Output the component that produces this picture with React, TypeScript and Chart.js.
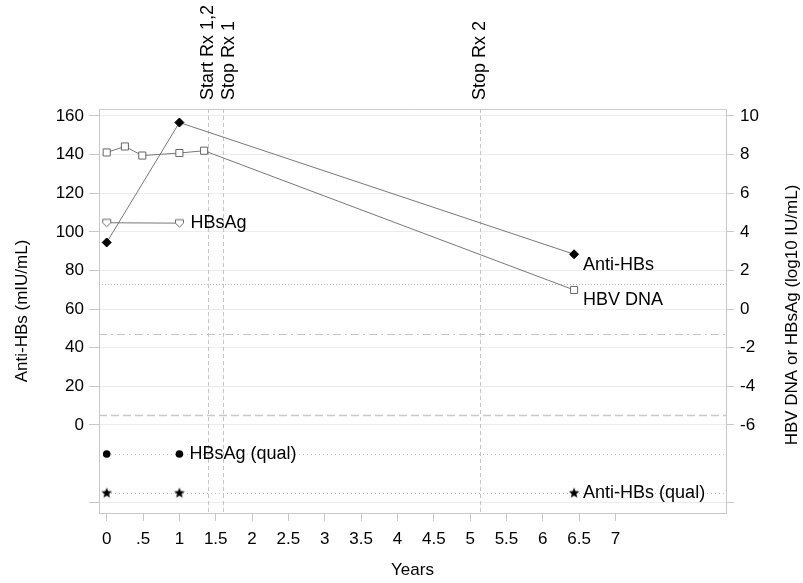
import { useEffect, useRef } from 'react';
import { Chart, registerables } from 'chart.js';

Chart.register(...registerables);

// ---- data ----
const antiHbsYears = [0, 1, 6.43];
const antiHbsValues = [94.5, 156.6, 88.4]; // mIU/mL, left axis

const hbvDnaYears = [0, 0.25, 0.49, 1, 1.34, 6.43];
const hbvDnaValues = [8.11, 8.42, 7.95, 8.08, 8.2, 0.99]; // log10 IU/mL, right axis

const hbsAgYears = [0, 1];
const hbsAgValues = [4.47, 4.45]; // log10 IU/mL, right axis

const hbsAgQualYears = [0, 1];
const antiHbsQualYears = [0, 1, 6.43];
const hbsAgQualRow = -15; // left-axis row for qualitative HBsAg
const antiHbsQualRow = -35; // left-axis row for qualitative anti-HBs

const eventYears = [1.4, 1.6, 5.13];
const eventLabels = ['Start Rx 1,2', 'Stop Rx 1', 'Stop Rx 2'];

const hbvDnaLloq = 1.3; // right axis, dotted
const hbsAgLloq = -1.3; // right axis, dash-dot
const antiHbsCutoff = 5; // left axis, dashed

const leftTicks = [-40, 0, 20, 40, 60, 80, 100, 120, 140, 160];
const rightTicks = [-10, -6, -4, -2, 0, 2, 4, 6, 8, 10];
const xTicks = [0, 0.5, 1, 1.5, 2, 2.5, 3, 3.5, 4, 4.5, 5, 5.5, 6, 6.5, 7];

const rightTitle = 'HBV DNA or HBsAg (log10 IU/mL)';

const FONT = "'Liberation Sans', Arial, sans-serif";

function makeStar(): HTMLCanvasElement {
  const c = document.createElement('canvas');
  c.width = 12;
  c.height = 12;
  const g = c.getContext('2d')!;
  g.beginPath();
  for (let i = 0; i < 10; i++) {
    const r = i % 2 === 0 ? 5.6 : 2.4;
    const a = -Math.PI / 2 + (i * Math.PI) / 5;
    const px = 6 + r * Math.cos(a);
    const py = 6.5 + r * Math.sin(a);
    if (i === 0) g.moveTo(px, py);
    else g.lineTo(px, py);
  }
  g.closePath();
  g.fillStyle = '#000';
  g.fill();
  return c;
}

function makeShield(): HTMLCanvasElement {
  const c = document.createElement('canvas');
  c.width = 11;
  c.height = 11;
  const g = c.getContext('2d')!;
  g.beginPath();
  g.moveTo(1.5, 2);
  g.lineTo(9.5, 2);
  g.lineTo(9.5, 5.5);
  g.lineTo(5.5, 9.5);
  g.lineTo(1.5, 5.5);
  g.closePath();
  g.fillStyle = '#fff';
  g.fill();
  g.strokeStyle = '#666';
  g.lineWidth = 1;
  g.stroke();
  return c;
}

const pairs = (xs: number[], ys: number[]) => xs.map((x, i) => ({ x, y: ys[i] }));

export default function App() {
  const ref = useRef<HTMLCanvasElement | null>(null);

  useEffect(() => {
    if (!ref.current) return;
    const star = makeStar();
    const shield = makeShield();

    const overlay = {
      id: 'overlay',
      beforeDatasetsDraw(chart: any) {
        const { ctx, chartArea: a, scales } = chart;
        const x = scales.x, yl = scales.y, yr = scales.y2;
        ctx.save();
        // top border
        ctx.strokeStyle = '#cccccc';
        ctx.lineWidth = 1;
        ctx.beginPath();
        ctx.moveTo(a.left, a.top + 0.5);
        ctx.lineTo(a.right, a.top + 0.5);
        ctx.stroke();

        const hline = (py: number, dash: number[], color: string, w = 1) => {
          ctx.save();
          ctx.strokeStyle = color;
          ctx.lineWidth = w;
          ctx.setLineDash(dash);
          ctx.beginPath();
          const yy = Math.round(py) + 0.5;
          ctx.moveTo(a.left, yy);
          ctx.lineTo(a.right, yy);
          ctx.stroke();
          ctx.restore();
        };
        hline(yr.getPixelForValue(hbvDnaLloq), [1, 2], '#b4b4b4');
        hline(yr.getPixelForValue(hbsAgLloq), [8, 4, 2, 4], '#c4c4c4');
        hline(yl.getPixelForValue(antiHbsCutoff), [8, 4], '#c8c8c8', 1.5);
        hline(yl.getPixelForValue(hbsAgQualRow), [1, 3], '#c0c0c0');
        hline(yl.getPixelForValue(antiHbsQualRow), [1, 3], '#c0c0c0');

        // vertical event lines
        ctx.strokeStyle = '#c4c4c4';
        ctx.setLineDash([4, 3]);
        eventYears.forEach((ev) => {
          const px = Math.round(x.getPixelForValue(ev)) + 0.5;
          ctx.beginPath();
          ctx.moveTo(px, a.top);
          ctx.lineTo(px, a.bottom);
          ctx.stroke();
        });
        ctx.restore();
      },
      afterDraw(chart: any) {
        const { ctx, chartArea: a, scales } = chart;
        const x = scales.x, yl = scales.y, yr = scales.y2;
        ctx.save();
        ctx.fillStyle = '#000';
        ctx.font = `18px ${FONT}`;
        ctx.textBaseline = 'middle';
        ctx.textAlign = 'left';
        // event labels (rotated)
        let prev = -1e9;
        eventYears.forEach((ev, i) => {
          let px = x.getPixelForValue(ev);
          if (px - prev < 18) px = prev + 21;
          prev = px;
          ctx.save();
          ctx.translate(px, a.top - 9);
          ctx.rotate(-Math.PI / 2);
          ctx.fillText(eventLabels[i], 0, 0);
          ctx.restore();
        });
        // series labels
        const lab = (t: string, px: number, py: number, dx: number, dy: number) =>
          ctx.fillText(t, px + dx, py + dy);
        const li = hbsAgYears.length - 1;
        lab('HBsAg', x.getPixelForValue(hbsAgYears[li]), yr.getPixelForValue(hbsAgValues[li]), 11, 0);
        const ai = antiHbsYears.length - 1;
        lab('Anti-HBs', x.getPixelForValue(antiHbsYears[ai]), yl.getPixelForValue(antiHbsValues[ai]), 9, 11);
        const di = hbvDnaYears.length - 1;
        lab('HBV DNA', x.getPixelForValue(hbvDnaYears[di]), yr.getPixelForValue(hbvDnaValues[di]), 9, 10);
        const qi = hbsAgQualYears.length - 1;
        lab('HBsAg (qual)', x.getPixelForValue(hbsAgQualYears[qi]), yl.getPixelForValue(hbsAgQualRow), 10, 0);
        const si = antiHbsQualYears.length - 1;
        lab('Anti-HBs (qual)', x.getPixelForValue(antiHbsQualYears[si]), yl.getPixelForValue(antiHbsQualRow), 9, 0);

        // right axis title, reading bottom-to-top
        ctx.font = `17px ${FONT}`;
        ctx.textAlign = 'center';
        ctx.save();
        ctx.translate(chart.width - 10.5, (a.top + a.bottom) / 2 + 4);
        ctx.rotate(-Math.PI / 2);
        ctx.fillText(rightTitle, 0, 0);
        ctx.restore();
        ctx.restore();
      },
    };

    const chart = new Chart(ref.current, {
      type: 'scatter',
      data: {
        datasets: [
          {
            label: 'HBsAg',
            data: pairs(hbsAgYears, hbsAgValues),
            yAxisID: 'y2',
            showLine: true,
            borderColor: '#777',
            borderWidth: 1,
            pointStyle: shield as any,
            pointRadius: 5,
          },
          {
            label: 'HBV DNA',
            data: pairs(hbvDnaYears, hbvDnaValues),
            yAxisID: 'y2',
            showLine: true,
            borderColor: '#777',
            borderWidth: 1,
            pointStyle: 'rect',
            pointRadius: 5,
            pointBackgroundColor: '#fff',
            pointBorderColor: '#666',
            pointBorderWidth: 1,
          },
          {
            label: 'Anti-HBs',
            data: pairs(antiHbsYears, antiHbsValues),
            yAxisID: 'y',
            showLine: true,
            borderColor: '#777',
            borderWidth: 1,
            pointStyle: 'rectRot',
            pointRadius: 4.5,
            pointBackgroundColor: '#000',
            pointBorderColor: '#000',
            pointBorderWidth: 1,
          },
          {
            label: 'HBsAg (qual)',
            data: hbsAgQualYears.map((v) => ({ x: v, y: hbsAgQualRow })),
            yAxisID: 'y',
            showLine: false,
            pointStyle: 'circle',
            pointRadius: 3.8,
            pointBackgroundColor: '#000',
            pointBorderColor: '#000',
            pointBorderWidth: 0,
          },
          {
            label: 'Anti-HBs (qual)',
            data: antiHbsQualYears.map((v) => ({ x: v, y: antiHbsQualRow })),
            yAxisID: 'y',
            showLine: false,
            pointStyle: star as any,
            pointRadius: 5,
          },
        ],
      },
      plugins: [overlay],
      options: {
        animation: false,
        responsive: false,
        events: [],
        layout: { padding: { top: 109, left: 0, right: 0, bottom: 0 } },
        plugins: { legend: { display: false }, tooltip: { enabled: false } },
        scales: {
          x: {
            type: 'linear',
            min: -0.106,
            max: 8.52,
            afterBuildTicks: (s: any) => {
              s.ticks = xTicks.map((v) => ({ value: v }));
            },
            afterFit: (s: any) => {
              s.height = 70;
            },
            ticks: {
              color: '#000',
              font: { family: FONT, size: 17 },
              padding: 8,
              maxRotation: 0,
              autoSkip: false,
              callback: (v: any) => (v === 0.5 ? '.5' : String(v)),
            },
            grid: { drawOnChartArea: false, tickLength: 8, tickColor: '#c8c8c8' },
            border: { display: true, color: '#c8c8c8' },
            title: {
              display: true,
              text: 'Years',
              color: '#000',
              font: { family: FONT, size: 17 },
              padding: { top: 0, bottom: 2 },
            },
          },
          y: {
            type: 'linear',
            position: 'left',
            min: -45.57,
            max: 163.6,
            afterBuildTicks: (s: any) => {
              s.ticks = leftTicks.map((v) => ({ value: v }));
            },
            afterFit: (s: any) => {
              s.width = 99;
            },
            ticks: {
              color: '#000',
              font: { family: FONT, size: 17 },
              padding: 5,
              autoSkip: false,
              callback: (v: any) => (v < 0 ? '' : String(v)),
            },
            grid: { color: '#ececec', tickLength: 10, tickColor: '#c8c8c8' },
            border: { display: true, color: '#c8c8c8' },
            title: {
              display: true,
              text: 'Anti-HBs (mIU/mL)',
              color: '#000',
              font: { family: FONT, size: 17 },
              padding: { top: 12, bottom: 0 },
            },
          },
          y2: {
            type: 'linear',
            position: 'right',
            min: -10.557,
            max: 10.36,
            afterBuildTicks: (s: any) => {
              s.ticks = rightTicks.map((v) => ({ value: v }));
            },
            afterFit: (s: any) => {
              s.width = 77;
            },
            ticks: {
              color: '#000',
              font: { family: FONT, size: 17 },
              padding: 6,
              autoSkip: false,
              callback: (v: any) => (v < -6 ? '' : String(v)),
            },
            grid: { drawOnChartArea: false, tickLength: 8, tickColor: '#c8c8c8' },
            border: { display: true, color: '#c8c8c8' },
            title: { display: false },
          },
        },
      },
    } as any);
    return () => chart.destroy();
  }, []);

  return (
    <div style={{ position: 'fixed', left: 0, top: 0, width: 803, height: 583, background: '#fff' }}>
      <canvas ref={ref} width={803} height={583} />
    </div>
  );
}
